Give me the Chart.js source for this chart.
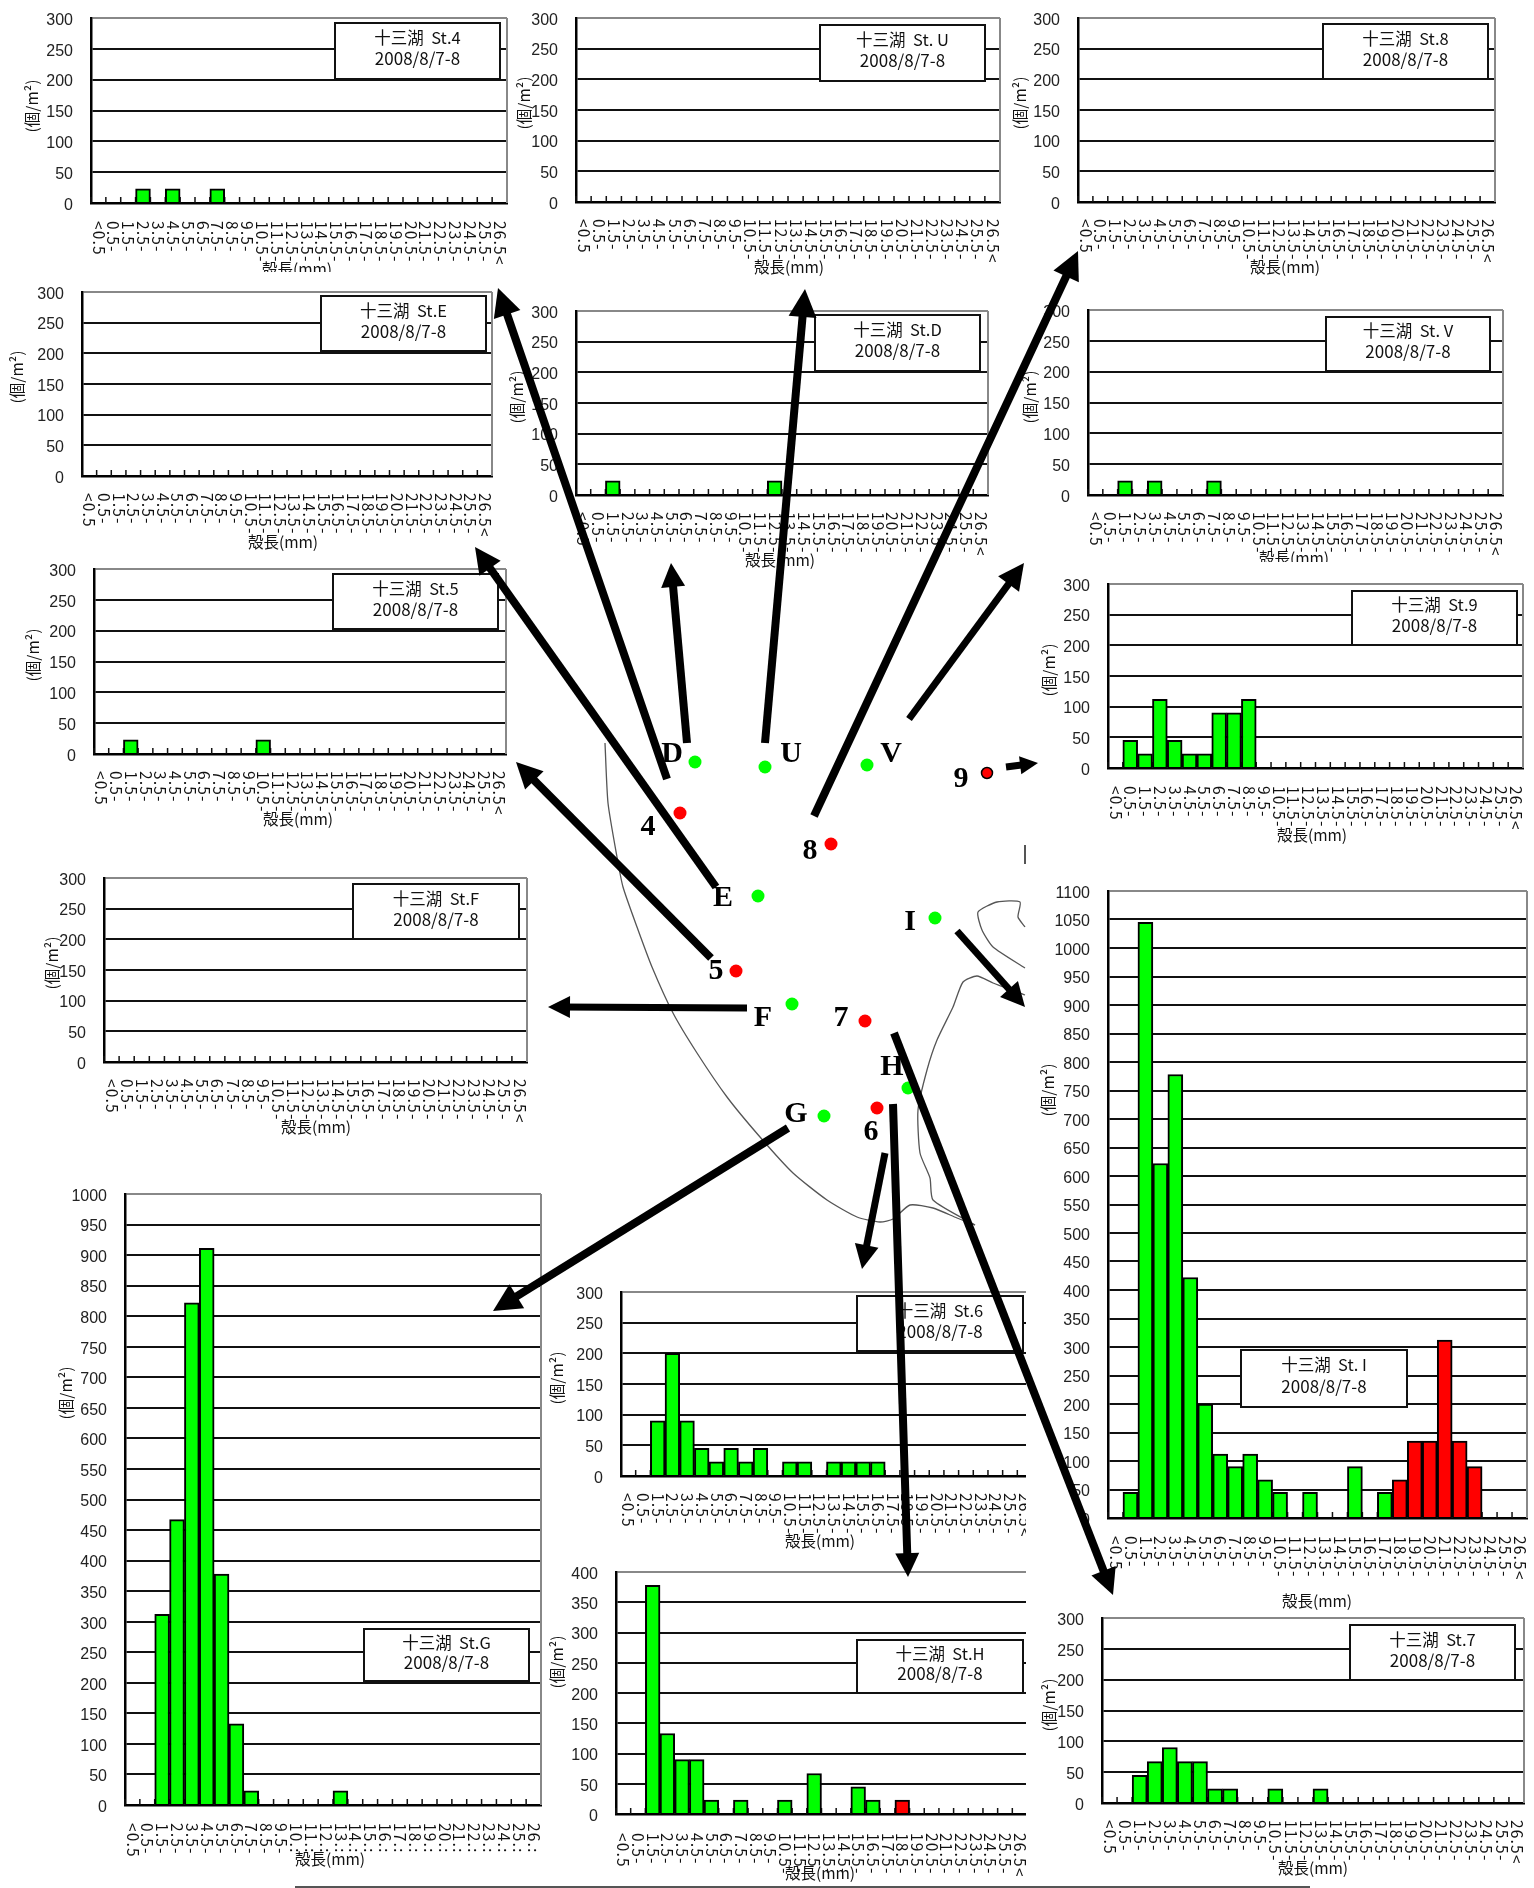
<!DOCTYPE html>
<html lang="ja">
<head>
<meta charset="utf-8">
<title>十三湖 殻長組成 2008/8/7-8</title>
<script src="https://cdn.jsdelivr.net/npm/chart.js@4"></script>
<style>
  html, body { margin: 0; padding: 0; background: #fff; }
  #page { position: relative; width: 1534px; height: 1888px; overflow: hidden; }
  .panel { position: absolute; overflow: hidden; }
  #overlay { position: absolute; left: 0; top: 0; pointer-events: none; }
</style>
</head>
<body>
<div id="page"></div>
<script>
"use strict";

// 殻長階級(28 階級)。St.G だけ 10 以上の目盛りが切れている
const sizeLabels = ["<0.5", "0.5-", "1.5-", "2.5-", "3.5-", "4.5-", "5.5-", "6.5-", "7.5-", "8.5-",
  "9.5-", "10.5-", "11.5-", "12.5-", "13.5-", "14.5-", "15.5-", "16.5-", "17.5-", "18.5-",
  "19.5-", "20.5-", "21.5-", "22.5-", "23.5-", "24.5-", "25.5-", "26.5<"];
const sizeLabelsG = ["<0.5", "0.5-", "1.5-", "2.5-", "3.5-", "4.5-", "5.5-", "6.5-", "7.5-", "8.5-",
  "9.5-", "10.:", "11.:", "12.:", "13.:", "14.:", "15.:", "16.:", "17.:", "18.:",
  "19.:", "20.:", "21.:", "22.:", "23.:", "24.:", "25.:", "26.:"];

// 各地点の個体数(個/m²)
const st4 = [0, 0, 0, 23, 0, 23, 0, 0, 23, 0, 0, 0, 0, 0, 0, 0, 0, 0, 0, 0, 0, 0, 0, 0, 0, 0, 0, 0];
const stU = [0, 0, 0, 0, 0, 0, 0, 0, 0, 0, 0, 0, 0, 0, 0, 0, 0, 0, 0, 0, 0, 0, 0, 0, 0, 0, 0, 0];
const st8 = [0, 0, 0, 0, 0, 0, 0, 0, 0, 0, 0, 0, 0, 0, 0, 0, 0, 0, 0, 0, 0, 0, 0, 0, 0, 0, 0, 0];
const stE = [0, 0, 0, 0, 0, 0, 0, 0, 0, 0, 0, 0, 0, 0, 0, 0, 0, 0, 0, 0, 0, 0, 0, 0, 0, 0, 0, 0];
const stD = [0, 0, 23, 0, 0, 0, 0, 0, 0, 0, 0, 0, 0, 23, 0, 0, 0, 0, 0, 0, 0, 0, 0, 0, 0, 0, 0, 0];
const stV = [0, 0, 23, 0, 23, 0, 0, 0, 23, 0, 0, 0, 0, 0, 0, 0, 0, 0, 0, 0, 0, 0, 0, 0, 0, 0, 0, 0];
const st5 = [0, 0, 23, 0, 0, 0, 0, 0, 0, 0, 0, 23, 0, 0, 0, 0, 0, 0, 0, 0, 0, 0, 0, 0, 0, 0, 0, 0];
const st9 = [0, 45, 23, 112, 45, 23, 23, 90, 90, 112, 0, 0, 0, 0, 0, 0, 0, 0, 0, 0, 0, 0, 0, 0, 0, 0, 0, 0];
const stF = [0, 0, 0, 0, 0, 0, 0, 0, 0, 0, 0, 0, 0, 0, 0, 0, 0, 0, 0, 0, 0, 0, 0, 0, 0, 0, 0, 0];
const stI = [0, 45, 1045, 622, 778, 422, 200, 112, 90, 112, 67, 45, 0, 45, 0, 0, 90, 0, 45, 67, 135, 135, 312, 135, 90, 0, 0, 0];
const stG = [0, 0, 312, 467, 822, 911, 378, 133, 23, 0, 0, 0, 0, 0, 23, 0, 0, 0, 0, 0, 0, 0, 0, 0, 0, 0, 0, 0];
const st6 = [0, 0, 90, 200, 90, 45, 23, 45, 23, 45, 0, 23, 23, 0, 23, 23, 23, 23, 0, 0, 0, 0, 0, 0, 0, 0, 0, 0];
const stH = [0, 0, 378, 133, 90, 90, 23, 0, 23, 0, 0, 23, 0, 67, 0, 0, 45, 23, 0, 23, 0, 0, 0, 0, 0, 0, 0, 0];
const st7 = [0, 0, 45, 67, 90, 67, 67, 23, 23, 0, 0, 23, 0, 0, 23, 0, 0, 0, 0, 0, 0, 0, 0, 0, 0, 0, 0, 0];

// 18.5mm 以上は赤
const adultFrom = 19;

// 地図上の地点
const greenStations = [[695, 762], [765, 767], [867, 765], [758, 896], [935, 918], [792, 1004], [908, 1088], [824, 1116]];
const redStations = [[680, 813], [831, 844], [736, 971], [865, 1021], [877, 1108]];
const ringStations = [[987, 773]];
const stationLetters = [["D", 672, 754], ["U", 791, 754], ["V", 891, 754], ["9", 961, 779], ["4", 648, 827],
  ["8", 810, 851], ["E", 723, 898], ["I", 910, 922], ["5", 716, 971], ["F", 763, 1018], ["7", 841, 1018],
  ["H", 892, 1067], ["G", 796, 1114], ["6", 871, 1132]];

// 矢印: 始点 x, y / 先端 x, y / 線幅 / 矢じり長さ
const arrows = [
  [667, 779, 498, 288, 8, 28],
  [687, 743, 671, 563, 8, 24],
  [765, 743, 805, 289, 8, 28],
  [814, 816, 1078, 251, 8, 28],
  [909, 719, 1024, 563, 7, 26],
  [1006, 767, 1038, 763, 7, 18],
  [716, 887, 475, 547, 8, 26],
  [711, 958, 516, 762, 8, 26],
  [747, 1008, 548, 1007, 7, 22],
  [957, 931, 1025, 1007, 7, 24],
  [894, 1033, 1113, 1595, 8, 26],
  [893, 1104, 908, 1577, 8, 24],
  [885, 1153, 862, 1269, 7, 24],
  [788, 1128, 493, 1311, 8, 28],
];

// 湖岸線
const westShore = [[605, 743], [608, 803], [617, 857], [623, 887], [637, 927], [652, 967], [673, 1013], [697, 1053],
  [727, 1097], [760, 1137], [793, 1173], [827, 1200], [857, 1217], [880, 1222], [893, 1219], [910, 1205],
  [933, 1208], [957, 1218], [975, 1225]];
const eastShore = [[975, 1225], [933, 1200], [930, 1178], [920, 1153], [918, 1110], [927, 1070], [937, 1040],
  [953, 1007], [963, 982], [977, 976], [993, 983], [1025, 995]];
const islandShore = [[1025, 927], [1018, 917], [1020, 902], [997, 902], [978, 912], [982, 930], [993, 947], [1025, 968]];
const shoreMark = [[1025, 845], [1025, 864]];
const bottomRule = [[295, 1887], [1310, 1887]];

// レイアウト(ページ座標): plot = 左, 右, 上, 下 / box = 左, 右, 上, 下
const panels = [
  { name: "十三湖\u00a0\u00a0St.4", values: st4, max: 300, plot: [91, 507, 18, 203], box: [335, 500, 23, 79], yTitle: [32, 106], xTitle: [297, 269], labelTop: 221, clipY: 272 },
  { name: "十三湖\u00a0\u00a0St. U", values: stU, max: 300, plot: [576, 1000, 18, 202], box: [820, 985, 25, 81], yTitle: [524, 103], xTitle: [789, 267], labelTop: 219 },
  { name: "十三湖\u00a0\u00a0St.8", values: st8, max: 300, plot: [1078, 1495, 18, 202], box: [1323, 1488, 24, 79], yTitle: [1020, 103], xTitle: [1285, 267], labelTop: 219 },
  { name: "十三湖\u00a0\u00a0St.E", values: stE, max: 300, plot: [82, 492, 292, 476], box: [321, 486, 296, 351], yTitle: [17, 377], xTitle: [283, 542], labelTop: 493 },
  { name: "十三湖\u00a0\u00a0St.D", values: stD, max: 300, plot: [576, 988, 311, 495], box: [815, 980, 315, 371], yTitle: [517, 397], xTitle: [780, 560], labelTop: 512 },
  { name: "十三湖\u00a0\u00a0St. V", values: stV, max: 300, plot: [1088, 1503, 310, 495], box: [1326, 1490, 317, 371], yTitle: [1030, 397], xTitle: [1294, 558], labelTop: 512, clipY: 562 },
  { name: "十三湖\u00a0\u00a0St.5", values: st5, max: 300, plot: [94, 506, 569, 754], box: [333, 498, 574, 629], yTitle: [33, 655], xTitle: [298, 819], labelTop: 771 },
  { name: "十三湖\u00a0\u00a0St.9", values: st9, max: 300, plot: [1108, 1523, 584, 768], box: [1352, 1517, 591, 645], yTitle: [1049, 670], xTitle: [1312, 835], labelTop: 786 },
  { name: "十三湖\u00a0\u00a0St.F", values: stF, max: 300, plot: [104, 527, 878, 1062], box: [353, 519, 884, 939], yTitle: [52, 963], xTitle: [316, 1127], labelTop: 1079 },
  { name: "十三湖\u00a0\u00a0St. I", values: stI, max: 1100, plot: [1108, 1527, 891, 1518], box: [1241, 1407, 1350, 1407], yTitle: [1048, 1090], xTitle: [1317, 1601], labelTop: 1536 },
  { name: "十三湖\u00a0\u00a0St.G", values: stG, max: 1000, plot: [125, 541, 1194, 1805], box: [364, 529, 1629, 1681], yTitle: [66, 1393], xTitle: [330, 1859], labelTop: 1823, labels: sizeLabelsG },
  { name: "十三湖\u00a0\u00a0St.6", values: st6, max: 300, plot: [621, 1032, 1292, 1476], box: [857, 1023, 1296, 1351], yTitle: [557, 1378], xTitle: [820, 1541], labelTop: 1493, clipX: 1026 },
  { name: "十三湖\u00a0\u00a0St.H", values: stH, max: 400, plot: [616, 1027, 1572, 1814], box: [857, 1023, 1640, 1693], yTitle: [557, 1662], xTitle: [820, 1873], labelTop: 1833, clipX: 1026 },
  { name: "十三湖\u00a0\u00a0St.7", values: st7, max: 300, plot: [1102, 1524, 1618, 1803], box: [1350, 1515, 1625, 1680], yTitle: [1049, 1705], xTitle: [1313, 1868], labelTop: 1820 },
];

const dateText = "2008/8/7-8";
const yTitleText = "(個/m²)";
const xTitleText = "殻長(mm)";
const cjk = '"Noto Sans CJK JP"';

const page = document.getElementById("page");

function buildPanel(p) {
  const [pl, pr, pt, pb] = p.plot;
  const L = p.yTitle[0] - 14;
  const T = pt - 14;
  const R = pr + 10;
  const B = p.xTitle[1] + 14;

  const wrap = document.createElement("div");
  wrap.className = "panel";
  wrap.style.left = L + "px";
  wrap.style.top = T + "px";
  wrap.style.width = (p.clipX ? p.clipX : R) - L + "px";
  wrap.style.height = (p.clipY ? p.clipY : B) - T + "px";
  const canvas = document.createElement("canvas");
  canvas.width = R - L;
  canvas.height = B - T;
  canvas.style.display = "block";
  wrap.append(canvas);
  page.append(wrap);

  const labels = p.labels || sizeLabels;

  // Excel 風の内向き目盛り、灰色の右枠、テキスト箱。軸名と階級名は時計回りに回す
  const extras = {
    id: "panelExtras",
    beforeDatasetsDraw(chart) {
      const { ctx, scales: { x } } = chart;
      const step = x.getPixelForValue(1) - x.getPixelForValue(0);
      ctx.save();
      ctx.strokeStyle = "#111";
      ctx.lineWidth = 1.5;
      ctx.beginPath();
      for (let i = 0; i <= labels.length; i++) {
        const px = x.getPixelForValue(0) - step / 2 + i * step;
        ctx.moveTo(px, pb - T);
        ctx.lineTo(px, pb - T - 6);
      }
      ctx.stroke();
      ctx.strokeStyle = "#888";
      ctx.lineWidth = 2;
      ctx.beginPath();
      ctx.moveTo(pr - L, pt - T);
      ctx.lineTo(pr - L, pb - T);
      ctx.stroke();
      ctx.restore();
    },
    afterDraw(chart) {
      const { ctx, scales: { x } } = chart;
      ctx.save();
      ctx.fillStyle = "#111";

      ctx.font = "15.5px " + cjk;
      ctx.letterSpacing = "1.2px";
      ctx.textAlign = "left";
      ctx.textBaseline = "middle";
      labels.forEach((text, i) => {
        ctx.save();
        ctx.translate(x.getPixelForValue(i), p.labelTop - T);
        ctx.rotate(Math.PI / 2);
        ctx.fillText(text, 0, 0);
        ctx.restore();
      });
      ctx.letterSpacing = "0px";

      ctx.textAlign = "center";
      ctx.font = "15.5px " + cjk;
      ctx.fillText(xTitleText, p.xTitle[0] - L, p.xTitle[1] - T);

      ctx.save();
      ctx.translate(p.yTitle[0] - L, p.yTitle[1] - T);
      ctx.rotate(-Math.PI / 2);
      ctx.font = "15.5px " + cjk;
      ctx.fillText(yTitleText, 0, 0);
      ctx.restore();

      const [bl, br, bt, bb] = p.box;
      ctx.fillStyle = "#fff";
      ctx.strokeStyle = "#111";
      ctx.lineWidth = 2;
      ctx.fillRect(bl - L, bt - T, br - bl, bb - bt);
      ctx.strokeRect(bl - L, bt - T, br - bl, bb - bt);
      ctx.fillStyle = "#111";
      const cx = (bl + br) / 2 - L;
      const h = bb - bt;
      ctx.font = "16.5px " + cjk;
      ctx.fillText(p.name, cx, bt - T + h * 0.26);
      ctx.font = "17px " + cjk;
      ctx.fillText(dateText, cx, bt - T + h * 0.64);
      ctx.restore();
    },
  };

  return new Chart(canvas, {
    type: "bar",
    data: {
      labels,
      datasets: [{
        data: p.values.map((v) => v || null),
        backgroundColor: (c) => (c.dataIndex >= adultFrom ? "#ff0000" : "#00ff00"),
        borderColor: "#000",
        borderWidth: 2,
        barPercentage: 1,
        categoryPercentage: 1,
      }],
    },
    options: {
      responsive: false,
      animation: false,
      devicePixelRatio: 1,
      layout: { autoPadding: false, padding: { left: 0, top: pt - T, right: R - pr, bottom: 0 } },
      plugins: { legend: { display: false }, tooltip: { enabled: false } },
      scales: {
        x: {
          grid: { display: false },
          border: { color: "#000", width: 2.5 },
          ticks: { display: false },
          afterFit: (s) => {
            s.height = B - pb;
            s.paddingLeft = 0;
            s.paddingRight = 0;
          },
        },
        y: {
          min: 0,
          max: p.max,
          border: { color: "#000", width: 2.5 },
          grid: {
            drawTicks: false,
            lineWidth: 2,
            color: (c) => (c.tick.value === p.max ? "#888" : "#111"),
          },
          ticks: {
            stepSize: 50,
            autoSkip: false,
            padding: 18,
            color: "#222",
            // 元図の数字は線より少し下にある: 空行 + 狭い行高で下げる
            font: { family: '"Liberation Sans"', size: 16, lineHeight: 0.3 },
            callback: (v) => ["", String(v)],
          },
          afterFit: (s) => {
            s.width = pl - L;
            s.paddingTop = 0;
            s.paddingBottom = 0;
          },
        },
      },
    },
    plugins: [extras],
  });
}

panels.forEach(buildPanel);

// 地図、地点、矢印は全面の透明な散布図に載せる
const overlayCanvas = document.createElement("canvas");
overlayCanvas.id = "overlay";
overlayCanvas.width = 1534;
overlayCanvas.height = 1888;
page.append(overlayCanvas);

const pts = (list) => list.map(([x, y]) => ({ x, y }));
const shoreSet = (list, width) => ({
  data: pts(list), showLine: true, borderColor: "#555", borderWidth: width, pointRadius: 0, tension: 0.2,
});

const arrowSets = arrows.map(([x0, y0, x1, y1, w, head]) => {
  const len = Math.hypot(x1 - x0, y1 - y0);
  const k = (len - head * 0.6) / len;
  return {
    data: [{ x: x0, y: y0 }, { x: x0 + (x1 - x0) * k, y: y0 + (y1 - y0) * k }],
    showLine: true, borderColor: "#000", borderWidth: w, pointRadius: 0,
  };
});

const mapExtras = {
  id: "mapExtras",
  afterDatasetsDraw(chart) {
    const { ctx, scales: { x, y } } = chart;
    ctx.save();
    ctx.fillStyle = "#000";
    for (const [x0, y0, x1, y1, , head] of arrows) {
      const a = Math.atan2(y1 - y0, x1 - x0);
      const tx = x.getPixelForValue(x1);
      const ty = y.getPixelForValue(y1);
      const half = head * 0.5;
      ctx.beginPath();
      ctx.moveTo(tx, ty);
      ctx.lineTo(tx - head * Math.cos(a) + half * Math.sin(a), ty - head * Math.sin(a) - half * Math.cos(a));
      ctx.lineTo(tx - head * Math.cos(a) - half * Math.sin(a), ty - head * Math.sin(a) + half * Math.cos(a));
      ctx.closePath();
      ctx.fill();
    }
    ctx.font = 'bold 30px "Liberation Serif"';
    ctx.textAlign = "center";
    ctx.textBaseline = "middle";
    for (const [text, lx, ly] of stationLetters) {
      ctx.fillText(text, x.getPixelForValue(lx), y.getPixelForValue(ly));
    }
    ctx.restore();
  },
};

new Chart(overlayCanvas, {
  type: "scatter",
  data: {
    datasets: [
      ...arrowSets,
      { data: pts(greenStations), backgroundColor: "#00ff00", borderWidth: 0, pointRadius: 6.5 },
      { data: pts(redStations), backgroundColor: "#ff0000", borderWidth: 0, pointRadius: 6.5 },
      { data: pts(ringStations), backgroundColor: "#ff0000", borderColor: "#000", borderWidth: 1.5, pointRadius: 5.5 },
      shoreSet(westShore, 1.3),
      shoreSet(eastShore, 1.3),
      shoreSet(islandShore, 1.3),
      shoreSet(shoreMark, 2),
      shoreSet(bottomRule, 2),
    ],
  },
  options: {
    responsive: false,
    animation: false,
    devicePixelRatio: 1,
    layout: { autoPadding: false, padding: 0 },
    plugins: { legend: { display: false }, tooltip: { enabled: false } },
    scales: {
      x: { display: false, min: 0, max: 1534 },
      y: { display: false, min: 0, max: 1888, reverse: true },
    },
  },
  plugins: [mapExtras],
});
</script>
</body>
</html>
